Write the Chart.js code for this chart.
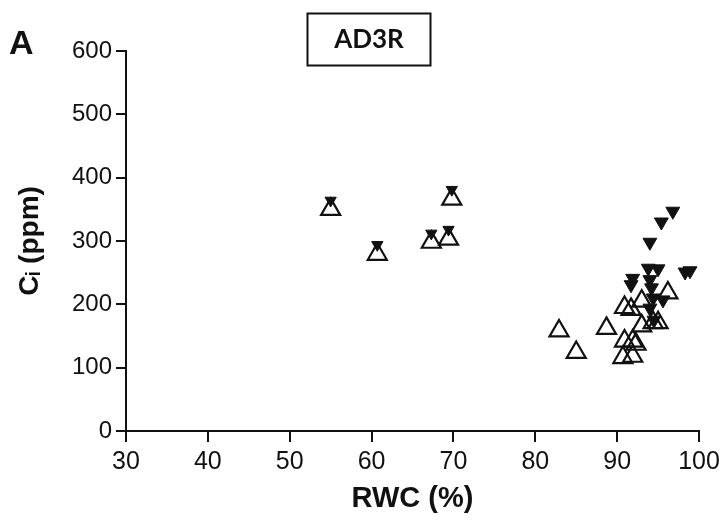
<!DOCTYPE html>
<html>
<head>
<meta charset="utf-8">
<script src="https://cdn.jsdelivr.net/npm/chart.js@4"></script>
<style>
html,body{margin:0;padding:0;background:#fff;}
canvas{display:block;}
</style>
</head>
<body>
<canvas id="c" width="725" height="528"></canvas>
<script>
// Data (RWC %, Ci ppm)
const panelLabel = 'A';
const panelTitle = 'AD3R';
const xTitle = 'RWC (%)';
const yTitle = 'C\u1D62 (ppm)';
const xTicks = [30, 40, 50, 60, 70, 80, 90, 100];
const yTicks = [0, 100, 200, 300, 400, 500, 600];

// Open (upward) triangles
const openRWC = [55.0, 60.7, 67.3, 69.4, 69.8,
  82.9, 85.0, 88.7, 90.9, 91.7, 93.0, 96.2, 93.0, 94.4, 95.0, 90.9, 91.9, 92.3, 90.7, 91.9];
const openCi = [350, 279, 298, 303, 366,
  158, 124, 162, 195, 192, 205, 218, 166, 171, 171, 142, 142, 137, 116, 118];

// Filled (downward) triangles
const filledRWC = [55.0, 60.7, 67.3, 69.4, 69.8,
  96.8, 95.4, 94.0, 93.8, 95.0, 98.3, 98.9, 91.9, 94.0, 91.7, 94.2, 94.4, 95.6, 94.0, 94.5];
const filledCi = [364, 294, 312, 318, 381,
  347, 330, 298, 257, 256, 251, 253, 241, 239, 231, 226, 210, 207, 194, 175];

const toPoints = (xs, ys) => xs.map((x, i) => ({x: x, y: ys[i]}));

const ink = '#111111';

const decorPlugin = {
  id: 'decor',
  afterDraw(chart) {
    const ctx = chart.ctx;
    ctx.save();
    // panel letter
    ctx.fillStyle = ink;
    ctx.font = 'bold 34px "Liberation Sans", Arial, sans-serif';
    ctx.textAlign = 'left';
    ctx.textBaseline = 'alphabetic';
    ctx.fillText(panelLabel, 9, 54);
    // title box
    ctx.strokeStyle = ink;
    ctx.lineWidth = 2;
    ctx.strokeRect(307.5, 13.5, 123, 52);
    ctx.font = 'bold 26px Lato, "Open Sans", sans-serif';
    ctx.textAlign = 'center';
    ctx.textBaseline = 'middle';
    ctx.fillText(panelTitle, 369, 40);
    ctx.restore();
  }
};

const tickFont = {family: '"Liberation Sans", Arial, sans-serif', size: 24};

new Chart(document.getElementById('c'), {
  type: 'scatter',
  data: {
    datasets: [
      {
        label: 'open',
        data: toPoints(openRWC, openCi),
        pointStyle: 'triangle',
        pointRadius: 11,
        pointHoverRadius: 11,
        pointBorderWidth: 2.2,
        borderColor: ink,
        backgroundColor: 'rgba(255,255,255,0)'
      },
      {
        label: 'filled',
        data: toPoints(filledRWC, filledCi),
        pointStyle: 'triangle',
        rotation: 180,
        pointRadius: (c) => (c.raw && c.raw.x < 75 ? 6.5 : 8),
        pointHoverRadius: (c) => (c.raw && c.raw.x < 75 ? 6.5 : 8),
        pointBorderWidth: 1,
        borderColor: ink,
        backgroundColor: ink
      }
    ]
  },
  options: {
    responsive: false,
    animation: false,
    events: [],
    layout: {padding: {left: 0, right: 26, top: 51, bottom: 0}},
    plugins: {legend: {display: false}, tooltip: {enabled: false}},
    scales: {
      x: {
        type: 'linear',
        min: xTicks[0],
        max: xTicks[xTicks.length - 1],
        afterBuildTicks: (s) => { s.ticks = xTicks.map(v => ({value: v})); },
        ticks: {font: {family: tickFont.family, size: 25}, color: ink, padding: 5},
        grid: {drawOnChartArea: false, drawTicks: true, tickLength: 11, color: ink, lineWidth: 2},
        border: {display: true, color: ink, width: 2},
        title: {display: true, text: xTitle, color: ink,
          font: {family: '"Liberation Sans", Arial, sans-serif', size: 29, weight: 'bold'},
          padding: {top: 0, bottom: 12}},
        afterFit: (s) => { s.height = 97; }
      },
      y: {
        type: 'linear',
        min: yTicks[0],
        max: yTicks[yTicks.length - 1],
        afterBuildTicks: (s) => { s.ticks = yTicks.map(v => ({value: v})); },
        ticks: {font: tickFont, color: ink, padding: 4},
        grid: {drawOnChartArea: false, drawTicks: true, tickLength: 10, color: ink, lineWidth: 2},
        border: {display: true, color: ink, width: 2},
        title: {display: true, text: yTitle, color: ink,
          font: {family: '"Liberation Sans", "DejaVu Sans", Arial, sans-serif', size: 28, weight: 'bold'},
          padding: {top: 13, bottom: 0}},
        afterFit: (s) => { s.width = 126; }
      }
    }
  },
  plugins: [decorPlugin]
});
</script>
</body>
</html>
